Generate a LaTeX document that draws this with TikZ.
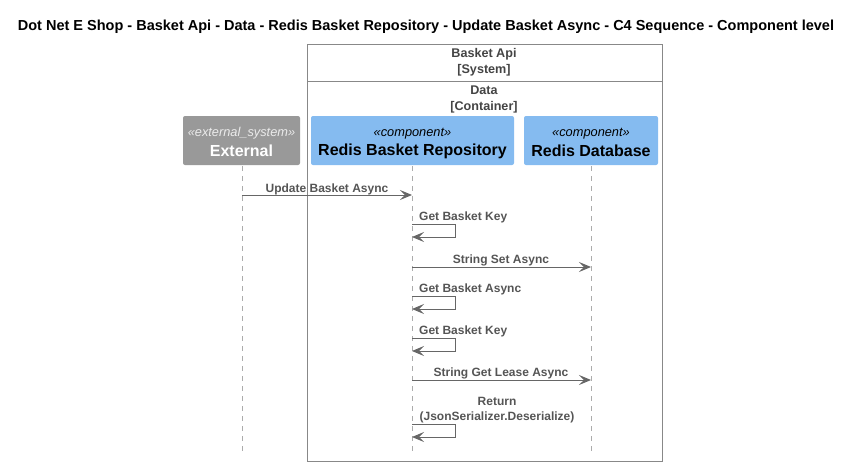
\documentclass[tikz,border=0pt]{standalone}
\usepackage{fontspec}
\setmainfont{Liberation Sans}
\usetikzlibrary{arrows.meta}
\definecolor{linegray}{HTML}{666666}
\definecolor{boxgray}{HTML}{888888}
\definecolor{txtgray}{HTML}{444444}
\definecolor{msgtxt}{HTML}{555555}
\definecolor{extfill}{HTML}{999999}
\definecolor{compfill}{HTML}{85BBF0}
\tikzset{
  x=1pt, y=-1pt,
  lifeline/.style={draw=boxgray!70, dash pattern=on 5pt off 5pt, line width=0.5pt},
  msg/.style={draw=linegray, line width=1pt, -{Stealth[length=12pt,width=10pt,inset=5pt]}},
  msglabel/.style={font=\bfseries\fontsize{12}{15}\selectfont, text=msgtxt, inner sep=0pt},
  boundtxt/.style={font=\bfseries\fontsize{12.6}{16}\selectfont, text=txtgray, align=center, inner sep=0pt},
  stereo/.style={inner sep=0pt, font=\itshape\fontsize{12.8}{14}\selectfont},
  pname/.style={inner sep=0pt, font=\bfseries\fontsize{16}{18}\selectfont},
}
\begin{document}
\begin{tikzpicture}
\useasboundingbox (0,0) rectangle (852,466);
\node[font=\bfseries\fontsize{14.5}{16}\selectfont, inner sep=0pt] (title) at (426,26.5) {Dot Net E Shop - Basket Api - Data - Redis Basket Repository - Update Basket Async - C4 Sequence - Component level};
% boundary
\draw[boxgray, line width=0.8pt] (307,44) rectangle (662,461);
\draw[boxgray, line width=0.8pt] (307,81) -- (662,81);
\node[boundtxt] (sys) at (484,62.5) {Basket Api\\{}[System]};
\node[boundtxt] (cont) at (484,99.5) {Data\\{}[Container]};
% participants
\path[fill=extfill, rounded corners=2pt] (183,116) rectangle (300,165);
\node[stereo, text=white!92!black] (extst) at (241.5,133.5) {«external\_system»};
\node[pname, text=white] (ext) at (241.5,151) {External};
\path[fill=compfill, rounded corners=2pt] (311,116) rectangle (514,165);
\node[stereo] (rbrst) at (412.5,133.5) {«component»};
\node[pname] (rbr) at (412.5,151) {Redis Basket Repository};
\path[fill=compfill, rounded corners=2pt] (524,116) rectangle (658,165);
\node[stereo] (rdbst) at (591,133.5) {«component»};
\node[pname] (rdb) at (591,151) {Redis Database};
% lifelines
\coordinate (e0) at (242,166); \coordinate (e1) at (242,452);
\coordinate (r0) at (412,166); \coordinate (r1) at (412,452);
\coordinate (d0) at (591,166); \coordinate (d1) at (591,452);
\draw[lifeline] (e0) -- (e1);
\draw[lifeline] (r0) -- (r1);
\draw[lifeline] (d0) -- (d1);
% messages
\coordinate (m1a) at (242,195); \coordinate (m1b) at (412,195);
\draw[msg] (m1a) -- (m1b);
\node[msglabel] (l1) at (327,189) {Update Basket Async};

\coordinate (m2a) at (412,224); \coordinate (m2b) at (412,237);
\draw[msg] (m2a) -- (455,224) -- (455,237) -- (m2b);
\node[msglabel, anchor=west] (l2) at (419,217) {Get Basket Key};

\coordinate (m3a) at (412,267); \coordinate (m3b) at (591,267);
\draw[msg] (m3a) -- (m3b);
\node[msglabel] (l3) at (501,260) {String Set Async};

\coordinate (m4a) at (412,296); \coordinate (m4b) at (412,309);
\draw[msg] (m4a) -- (455,296) -- (455,309) -- (m4b);
\node[msglabel, anchor=west] (l4) at (419,289) {Get Basket Async};

\coordinate (m5a) at (412,338); \coordinate (m5b) at (412,351);
\draw[msg] (m5a) -- (455,338) -- (455,351) -- (m5b);
\node[msglabel, anchor=west] (l5) at (419,331) {Get Basket Key};

\coordinate (m6a) at (412,380); \coordinate (m6b) at (591,380);
\draw[msg] (m6a) -- (m6b);
\node[msglabel] (l6) at (501,373) {String Get Lease Async};

\coordinate (m7a) at (412,424); \coordinate (m7b) at (412,437);
\draw[msg] (m7a) -- (455,424) -- (455,437) -- (m7b);
\node[msglabel, align=center] (l7) at (497,410) {Return\\(JsonSerializer.Deserialize)};
\end{tikzpicture}
\end{document}
